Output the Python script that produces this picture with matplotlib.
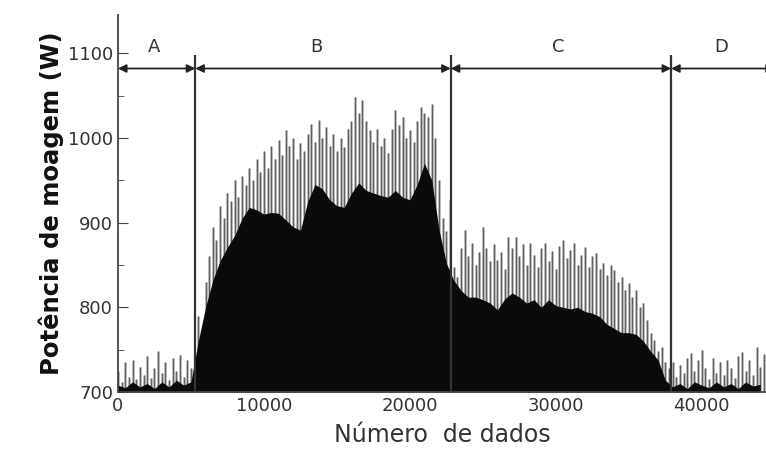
import numpy as np
import matplotlib
matplotlib.use("Agg")
import matplotlib.pyplot as plt

# spike tops, one every 250 samples from 0
peak = [
    # A
    725, 712, 735, 718, 738, 715, 730, 720, 742, 716,
    728, 748, 722, 735, 714, 740, 725, 744, 718, 738,
    728, 740,
    # B
    790, 770, 830, 860, 895, 880, 920, 905, 935, 925,
    950, 930, 955, 945, 965, 950, 975, 960, 985, 965,
    990, 975, 997, 980, 1009, 990, 1000, 975, 994, 985,
    1005, 1017, 995, 1021, 1000, 1013, 990, 1005, 985, 1000,
    989, 1010, 1020, 1048, 1030, 1045, 1020, 1009, 995, 1010,
    990, 1000, 982, 1010, 1033, 1015, 1025, 1000, 1009, 995,
    1020, 1036, 1030, 1025, 1040, 1000, 950, 905, 890, 927,
    # C
    848, 836, 870, 891, 860, 876, 850, 865, 895, 870,
    855, 875, 856, 865, 845, 883, 870, 883, 860, 875,
    850, 876, 862, 848, 870, 876, 855, 866, 845, 872,
    879, 858, 868, 876, 850, 862, 871, 848, 860, 864,
    845, 852, 838, 850, 844, 830, 836, 820, 829, 812,
    820, 800, 805, 785, 770, 761, 748, 753, 735, 728,
    # D
    735, 718, 732, 722, 740, 746, 725, 738, 750, 728,
    715, 740, 722, 735, 720, 738, 728, 716, 742, 747,
    725, 738, 720, 753, 730, 745,
]

# solid dark band, one value every 500 samples from 0
body = [
    708, 705, 712, 706, 710, 704, 712, 706, 714, 708, 712,
    760, 800, 832, 855, 871, 885, 905, 918, 915, 910,
    912, 911, 903, 895, 891, 925, 945, 940, 927, 920,
    918, 935, 947, 938, 935, 932, 930, 938, 930, 927,
    945, 970, 950, 891, 852,
    832, 820, 812, 812, 809, 805, 797, 810, 817, 812,
    805, 809, 800, 809, 802, 800, 798, 800, 795, 793,
    789, 780, 775, 770, 770, 768, 760, 748, 738, 714,
    706, 710, 704, 712, 708, 705, 712, 706, 710, 704,
    712, 707, 709,
]

bounds = [5300, 22800, 37900]
labels = ["A", "B", "C", "D"]
label_x = [2470, 13560, 30200, 41300]
xmax = 44400

peak_x = np.arange(len(peak)) * 250
body_x = np.arange(len(body)) * 500

fig = plt.figure(figsize=(7.66, 4.59), dpi=100)
ax = fig.add_axes([0.154, 0.146, 0.846, 0.821])

# grey spikes that nearly touch, thin dark cores, then the black band on top
ax.vlines(peak_x, 700, peak, color="#8f8f8f", lw=1.8, alpha=0.8, zorder=2)
ax.vlines(peak_x, 700, peak, color="#2a2a2a", lw=0.5, alpha=0.8, zorder=2)
ax.fill_between(body_x, 700, body, color="#0a0a0a", lw=0, zorder=3)

ax.vlines(bounds, 700, 1098, color="#333333", lw=1.6, zorder=4)

edges = [0] + bounds + [xmax + 600]
for i in range(4):
    ax.annotate("", xy=(edges[i], 1082), xytext=(edges[i + 1], 1082),
                arrowprops=dict(arrowstyle="<|-|>", color="#222222", lw=1.3,
                                mutation_scale=12, shrinkA=0, shrinkB=0),
                annotation_clip=False)
    ax.text(label_x[i], 1107, labels[i], ha="center", va="center",
            fontsize=13, color="#333333")

ax.set_xlim(0, xmax)
ax.set_ylim(700, 1145)
ax.set_yticks([700, 800, 900, 1000, 1100])
ax.set_yticks(np.arange(750, 1150, 100), minor=True)
ax.set_xticks([0, 10000, 20000, 30000, 40000])

for s in ["top", "right"]:
    ax.spines[s].set_visible(False)
for s in ["left", "bottom"]:
    ax.spines[s].set_color("#444444")
    ax.spines[s].set_linewidth(1.3)
    ax.spines[s].set_zorder(5)

ax.tick_params(axis="both", which="both", direction="in", colors="#444444",
               labelcolor="#333333", labelsize=13)
ax.tick_params(axis="y", which="major", length=7)
ax.tick_params(axis="y", which="minor", length=4)
ax.tick_params(axis="x", length=4)

ax.set_xlabel("Número  de dados", fontsize=17, color="#333333", labelpad=6)
ax.set_ylabel("Potência de moagem (W)", fontsize=17.5, fontweight="bold",
              color="#111111", labelpad=3)

fig.savefig("out.png", dpi=100)
